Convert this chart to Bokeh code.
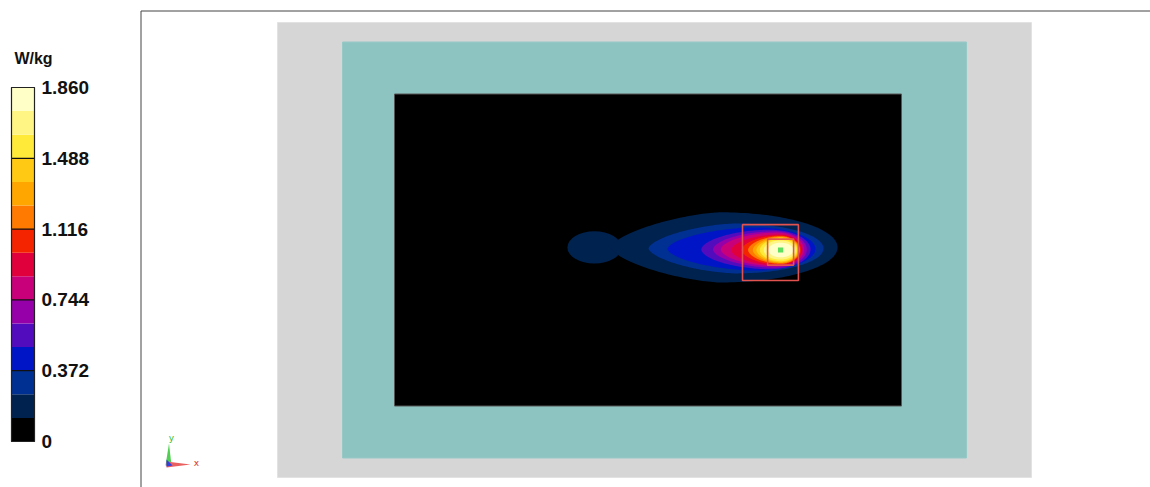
import numpy as np
from bokeh.plotting import figure
from bokeh.models import Range1d
from bokeh.core.properties import value
from bokeh.embed import file_html
from bokeh.resources import INLINE

# ---------------- data ----------------
unit_label = "W/kg"
level_values = [0.0, 0.124, 0.248, 0.372, 0.496, 0.620, 0.744, 0.868,
                0.992, 1.116, 1.240, 1.364, 1.488, 1.612, 1.736, 1.860]
palette = ["#000000", "#00224F", "#003092", "#0016C6", "#520CBE", "#9600A8",
           "#C8007A", "#E0003C", "#F42400", "#FF7A00", "#FFA600", "#FFC914",
           "#FFEA3A", "#FFF585", "#FFFFC8"]
tick_values = [0.0, 0.372, 0.744, 1.116, 1.488, 1.860]
tick_labels = ["0", "0.372", "0.744", "1.116", "1.488", "1.860"]

# scan regions (mm)
region_left = [-145.0, -120.0, -100.0]
region_right = [145.0, 120.0, 95.0]
region_bottom = [-87.5, -80.0, -60.0]
region_top = [87.5, 80.0, 60.0]
region_fill = ["#D6D6D6", "#8DC4C2", "#000000"]
region_line = ["#E2E2E2", "#97C9C7", "#555555"]

# iso-SAR contours (mm), one per level index 1..14
contour_level = [1, 2, 3, 4, 5, 6, 7, 8, 9, 10, 11, 12, 13, 14]
contour_x_left = [-16.9, -2.3, 5.0, 18.0, 22.5, 25.5, 29.5, 33.5, 36.0, 37.8, 39.2, 40.5, 42.0, 43.8]
contour_x_wide = [25.4, 31.2, 38.8, 44.0, 46.0, 47.0, 47.7, 48.1, 48.5, 48.5, 48.5, 48.5, 48.5, 48.5]
contour_x_right = [70.4, 65.0, 61.9, 60.0, 58.6, 57.5, 56.8, 56.3, 55.9, 55.6, 55.3, 54.9, 54.3, 53.4]
contour_half_h = [13.5, 9.6, 8.3, 7.6, 7.0, 6.5, 6.0, 5.6, 5.3, 5.0, 4.7, 4.3, 3.7, 2.8]
contour_y_center = [1.0, 0.6, 0.4, 0.2, 0.2, 0.2, 0.0, 0.0, 0.0, 0.0, 0.0, 0.0, 0.0, 0.0]
contour_left_shape = [1.5, 1.6, 1.7, 1.8, 1.8, 1.8, 1.8, 1.8, 1.8, 1.8, 1.8, 1.9, 2.0, 2.0]
# secondary lobe of the lowest contour
lobe_x, lobe_y, lobe_rx, lobe_ry = -23.1, 1.0, 10.4, 6.2

# averaging cubes (mm)
cube_x = [44.6, 48.5]
cube_y = [-1.0, -0.8]
cube_side = [21.5, 10.0]
peak_x, peak_y = [48.5], [0.0]

# ---------------- layout constants ----------------
W, H = 1150, 487          # figure size (page px)
S = 2.6                   # px per mm
OX, OY = 654.0, 249.5     # page position of mm origin
CB_L, CB_R, CB_T, CB_B = 11, 34, 87, 441
vmax = level_values[-1]
ppu = (CB_B - CB_T) / vmax

p = figure(width=W, height=H, min_border=0, x_axis_type=None, y_axis_type=None,
           toolbar_location=None, output_backend="svg", outline_line_color=None,
           x_range=Range1d((0 - OX) / S, (W - OX) / S),
           y_range=Range1d((OY - H) / S, (OY - 0) / S))
p.grid.visible = False
p.background_fill_color = "white"
p.border_fill_color = "white"
p.extra_x_ranges = {"sx": Range1d(0, W)}
p.extra_y_ranges = {"sy": Range1d(H, 0),
                    "cbv": Range1d(-(H - CB_B) / ppu, vmax + CB_T / ppu)}

# panel frame (left + top lines)
p.segment(x0=[140.5, 140.5], y0=[10.5, 10.5], x1=[140.5, W], y1=[H, 10.5],
          line_color="#444444", line_width=1, x_range_name="sx", y_range_name="sy")

# regions
p.quad(left=region_left, right=region_right, bottom=region_bottom, top=region_top,
       fill_color=region_fill, line_color=region_line, line_width=1)

# contours
def egg(xl, xw, xr, b, yc, pl, n=200):
    th = np.linspace(0, 2 * np.pi, n)
    c, s = np.cos(th), np.sin(th)
    right = c >= 0
    x = np.where(right, xw + (xr - xw) * c, xw - (xw - xl) * np.abs(c) ** (2 / pl))
    y = yc + b * np.where(right, s, np.sign(s) * np.abs(s) ** (2 / pl))
    return x, y

for i, lev in enumerate(contour_level):
    ex, ey = egg(contour_x_left[i], contour_x_wide[i], contour_x_right[i],
                 contour_half_h[i], contour_y_center[i], contour_left_shape[i])
    if lev == 1:
        p.ellipse(x=[lobe_x], y=[lobe_y], width=2 * lobe_rx, height=2 * lobe_ry,
                  fill_color=palette[1], line_color=None)
    p.patch(ex, ey, fill_color=palette[lev], line_color=None)

# cubes and peak
p.rect(x=cube_x, y=cube_y, width=cube_side, height=cube_side, fill_color=None,
       line_color="#E2524F", line_width=1.6)
p.rect(x=peak_x, y=peak_y, width=2.0, height=2.0, fill_color="#5EE05E", line_color=None)

# colour bar
p.quad(left=CB_L, right=CB_R, bottom=level_values[:-1], top=level_values[1:],
       fill_color=palette, line_color=None, x_range_name="sx", y_range_name="cbv")
p.segment(x0=CB_L, x1=CB_R, y0=tick_values, y1=tick_values, line_color="#111111",
          line_width=1.2, x_range_name="sx", y_range_name="cbv")
p.quad(left=[CB_L], right=[CB_R], bottom=[0.0], top=[vmax], fill_color=None,
       line_color="#222222", line_width=1.2, x_range_name="sx", y_range_name="cbv")
p.text(x=[41] * len(tick_values), y=tick_values, text=tick_labels,
       text_font=value("Liberation Sans"), text_font_style="bold",
       text_font_size="19px", text_baseline="middle", text_align="left",
       text_color="#111111", x_range_name="sx", y_range_name="cbv")
p.text(x=[33], y=[58], text=[unit_label], text_font=value("Liberation Sans"),
       text_font_style="bold", text_font_size="16px", text_baseline="middle",
       text_align="center", text_color="#111111", x_range_name="sx", y_range_name="sy")

# orientation triad
p.patch(x=[165, 171, 168.5], y=[465, 465, 443], fill_color="#50D050", line_color=None,
        x_range_name="sx", y_range_name="sy")
p.patch(x=[166, 166, 190], y=[461, 467, 464], fill_color="#E86060", line_color=None,
        x_range_name="sx", y_range_name="sy")
p.patch(x=[166, 172, 166], y=[459, 465, 466], fill_color="#3040E0", line_color=None,
        x_range_name="sx", y_range_name="sy")
p.text(x=[171, 196], y=[437, 462], text=["y", "x"], text_color=["#30C030", "#E03030"],
       text_font=value("DejaVu Sans"), text_font_size="9px", text_baseline="middle",
       text_align="center", x_range_name="sx", y_range_name="sy")

open("out.html", "w").write(file_html(p, INLINE))
